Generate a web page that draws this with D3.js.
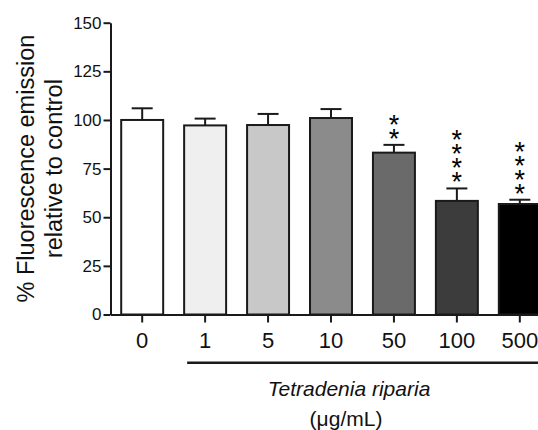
<!DOCTYPE html>
<html>
<head>
<meta charset="utf-8">
<script src="https://cdn.jsdelivr.net/npm/d3@7"></script>
<style>
  body { margin: 0; background: #fff; }
  svg { display: block; font-family: "Liberation Sans", Arial, Helvetica, sans-serif; }
</style>
</head>
<body>
<div id="chart"></div>
<script>
// Data
const categories = ['0', '1', '5', '10', '50', '100', '500'];
const means = [100, 97.2, 97.4, 101, 83.2, 58.4, 56.8];
const sems = [6, 3.5, 5.7, 4.6, 4, 6.4, 2.2];
const stars = [0, 0, 0, 0, 2, 4, 4];
const fills = ['#ffffff', '#efefef', '#c8c8c8', '#8b8b8b', '#6a6a6a', '#3c3c3c', '#000000'];
const yTicks = [0, 25, 50, 75, 100, 125, 150];

// Dimensions
const WIDTH = 538;
const HEIGHT = 430;
const MARGIN = { TOP: 22.7, LEFT: 110.5, BOTTOM: 115.5 };
const PLOT_W = 441;
const PLOT_H = HEIGHT - MARGIN.TOP - MARGIN.BOTTOM;

const svg = d3
  .select('#chart')
  .append('svg')
  .attr('width', WIDTH)
  .attr('height', HEIGHT);

const g = svg.append('g').attr('transform', `translate(${MARGIN.LEFT}, ${MARGIN.TOP})`);

// Scales
const x = d3.scaleBand().domain(categories).range([0, PLOT_W]).paddingInner(0.333).paddingOuter(0.17);
const y = d3.scaleLinear().domain([0, 150]).range([PLOT_H, 0]);

const data = categories.map((c, i) => ({ c, m: means[i], e: sems[i], s: stars[i], f: fills[i] }));

// Bars
g.selectAll('rect.bar')
  .data(data)
  .enter()
  .append('rect')
  .attr('class', 'bar')
  .attr('x', (d) => x(d.c))
  .attr('y', (d) => y(d.m))
  .attr('width', x.bandwidth())
  .attr('height', (d) => y(0) - y(d.m))
  .attr('fill', (d) => d.f)
  .attr('stroke', '#1a1a1a')
  .attr('stroke-width', 2);

// Error bars (upper only)
const cx = (d) => x(d.c) + x.bandwidth() / 2;
const capW = x.bandwidth() / 4;
const err = g.selectAll('g.err').data(data).enter().append('g').attr('class', 'err')
  .attr('stroke', '#1a1a1a').attr('stroke-width', 2);
err.append('line')
  .attr('x1', cx).attr('x2', cx)
  .attr('y1', (d) => y(d.m)).attr('y2', (d) => y(d.m + d.e));
err.append('line')
  .attr('x1', (d) => cx(d) - capW).attr('x2', (d) => cx(d) + capW)
  .attr('y1', (d) => y(d.m + d.e)).attr('y2', (d) => y(d.m + d.e));

// Significance stars
const STAR_FS = 27;
data.forEach((d) => {
  for (let k = 0; k < d.s; k++) {
    const cy = y(d.m + d.e) - 12 - k * 14;
    g.append('text')
      .attr('x', cx(d))
      .attr('y', cy + STAR_FS * 0.555)
      .attr('text-anchor', 'middle')
      .style('font-size', STAR_FS + 'px')
      .text('*');
  }
});

// Axes
const xAxis = g.append('g')
  .attr('transform', `translate(0, ${PLOT_H})`)
  .call(d3.axisBottom(x).tickSize(8).tickSizeOuter(0).tickPadding(10));
xAxis.selectAll('text').style('font-size', '22px').attr('fill', '#111');

const yAxis = g.append('g')
  .call(d3.axisLeft(y).tickValues(yTicks).tickSize(7).tickSizeOuter(0).tickPadding(2));
yAxis.selectAll('text').style('font-size', '17px').attr('fill', '#111');

[xAxis, yAxis].forEach((a) => {
  a.select('.domain').attr('stroke', '#1a1a1a').attr('stroke-width', 2);
  a.selectAll('.tick line').attr('stroke', '#1a1a1a').attr('stroke-width', 2);
});

// Y title
const yTitle = svg.append('text')
  .attr('transform', `translate(0, ${MARGIN.TOP + PLOT_H / 2}) rotate(-90)`)
  .attr('text-anchor', 'middle')
  .style('font-size', '23.5px')
  .attr('fill', '#111');
yTitle.append('tspan').attr('x', 0).attr('y', 33.5).text('% Fluorescence emission');
yTitle.append('tspan').attr('x', 0).attr('y', 61.5).text('relative to control');

// Treatment bracket
const bx = MARGIN.LEFT + x('1') + 3;
svg.append('line')
  .attr('x1', bx).attr('x2', WIDTH + 10)
  .attr('y1', 362.7).attr('y2', 362.7)
  .attr('stroke', '#1a1a1a').attr('stroke-width', 2.5);

svg.append('text')
  .attr('x', 349).attr('y', 396)
  .attr('text-anchor', 'middle')
  .style('font-size', '21px').style('font-style', 'italic')
  .attr('fill', '#111')
  .text('Tetradenia riparia');

svg.append('text')
  .attr('x', 346).attr('y', 426)
  .attr('text-anchor', 'middle')
  .style('font-size', '21px')
  .attr('fill', '#111')
  .text('(\u03bcg/mL)');
</script>
</body>
</html>
